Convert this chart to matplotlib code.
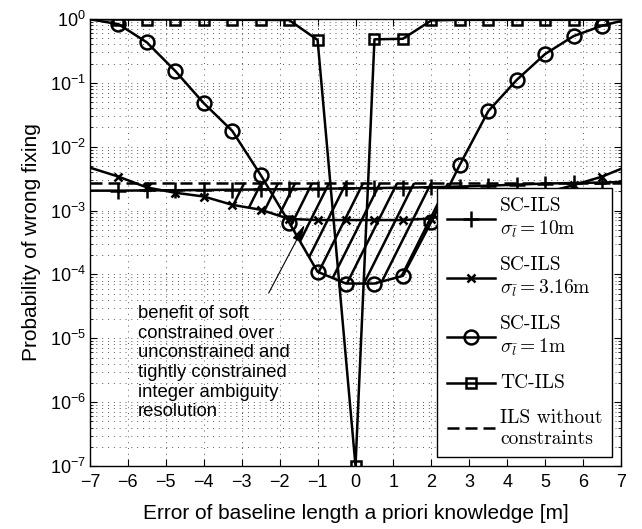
import matplotlib
matplotlib.use('Agg')
import matplotlib.pyplot as plt
import numpy as np
from matplotlib.collections import LineCollection
from matplotlib.font_manager import FontProperties
from matplotlib.ticker import LogLocator, NullFormatter

plt.rcParams.update({
    'font.family': 'Liberation Sans',
    'mathtext.fontset': 'custom',
    'mathtext.rm': 'Liberation Sans',
    'mathtext.it': 'Liberation Sans:italic',
    'mathtext.bf': 'Liberation Sans:bold',
    'axes.linewidth': 1.0,
    'xtick.direction': 'in',
    'ytick.direction': 'in',
    'xtick.top': True,
    'ytick.right': True,
})

# error of the baseline length prior [m]
x_sc = [-7, -6.25, -5.5, -4.75, -4, -3.25, -2.5, -1.75, -1, -0.25,
        0.5, 1.25, 2, 2.75, 3.5, 4.25, 5, 5.75, 6.5, 7]
x_tc = [-7, -6.25, -5.5, -4.75, -4, -3.25, -2.5, -1.75, -1, 0,
        0.5, 1.25, 2, 2.75, 3.5, 4.25, 5, 5.75, 6.5, 7]
x_ils = [-7, 7]

# probability of wrong fixing
p_sc10 = [2.05e-3, 2.05e-3, 2.07e-3, 2.08e-3, 2.1e-3, 2.12e-3, 2.14e-3, 2.17e-3, 2.2e-3, 2.22e-3,
          2.25e-3, 2.28e-3, 2.32e-3, 2.38e-3, 2.45e-3, 2.55e-3, 2.65e-3, 2.7e-3, 2.75e-3, 2.8e-3]
p_sc316 = [4.7e-3, 3.4e-3, 2.3e-3, 1.9e-3, 1.66e-3, 1.23e-3, 1.03e-3, 7.4e-4, 7.1e-4, 7.1e-4,
           7.1e-4, 7.1e-4, 7.5e-4, 1.03e-3, 1.23e-3, 1.66e-3, 1.9e-3, 2.5e-3, 3.4e-3, 4.5e-3]
p_sc1 = [0.99, 0.83, 0.43, 0.153, 0.048, 0.0177, 3.6e-3, 6.5e-4, 1.1e-4, 7.2e-5,
         7.2e-5, 9.5e-5, 6.7e-4, 5.2e-3, 0.036, 0.111, 0.283, 0.54, 0.785, 0.93]
p_tc = [1.0, 0.98, 0.98, 0.98, 0.98, 0.97, 0.97, 0.96, 0.47, 1e-7,
        0.48, 0.49, 0.95, 0.97, 0.97, 0.97, 0.97, 0.97, 0.98, 1.0]
p_ils = [2.72e-3, 2.72e-3]

# x-range of the shaded "benefit" band
band_x = [-3.3, 2.6]

legend_labels = [
    'SC-ILS\n' + r'$\sigma_{\bar{l}} = 10\mathrm{m}$',
    'SC-ILS\n' + r'$\sigma_{\bar{l}} = 3.16\mathrm{m}$',
    'SC-ILS\n' + r'$\sigma_{\bar{l}} = 1\mathrm{m}$',
    'TC-ILS',
    'ILS without\nconstraints',
]

fig = plt.figure(figsize=(6.42, 5.29), dpi=100)
ax = fig.add_axes([0.1402, 0.1191, 0.8271, 0.8450])

lw = 1.8
mew = 1.8
inner = slice(1, -1)
h1, = ax.plot(x_sc, p_sc10, color='k', lw=lw, marker='+', ms=11, mew=mew, markevery=inner, zorder=4)
h2, = ax.plot(x_sc, p_sc316, color='k', lw=lw, marker='x', ms=6, mew=mew, markevery=inner, zorder=4)
h3, = ax.plot(x_sc, p_sc1, color='k', lw=lw, marker='o', ms=10, mfc='none', mew=mew, markevery=inner, zorder=4)
h4, = ax.plot(x_tc, p_tc, color='k', lw=lw, marker='s', ms=7, mfc='none', mew=mew, markevery=inner, zorder=4)
h5, = ax.plot(x_ils, p_ils, color='k', lw=lw, ls=(0, (4.8, 2.4)), zorder=4)

# hatched band between unconstrained ILS and the best soft-constrained curve
xf = np.linspace(band_x[0], band_x[1], 400)
lo = np.minimum(np.interp(xf, x_sc, np.log10(p_sc316)), np.interp(xf, x_sc, np.log10(p_sc1)))
hi = np.interp(xf, x_ils, np.log10(p_ils))
band = ax.fill_between(xf, 10 ** lo, 10 ** hi, facecolor='none', edgecolor='none')
slope = 2.0 * (0.8271 * 642) / (0.8450 * 529)
segs = [[(c, 0.0), (c + 1.0 / slope, 1.0)] for c in np.arange(-1.0, 1.0, 0.032)]
hatch = LineCollection(segs, colors='k', linewidths=1.8, transform=ax.transAxes, zorder=3)
ax.add_collection(hatch, autolim=False)
hatch.set_clip_path(band.get_paths()[0], ax.transData)

ax.set_yscale('log')
ax.set_xlim(-7, 7)
ax.set_ylim(1e-7, 1)
ax.set_xticks(np.arange(-7, 8, 1))
ax.yaxis.set_major_locator(LogLocator(base=10, numticks=10))
ax.yaxis.set_minor_locator(LogLocator(base=10, subs=np.arange(2, 10), numticks=20))
ax.yaxis.set_minor_formatter(NullFormatter())
ax.tick_params(which='major', length=5, width=0.8, labelsize=13)
ax.tick_params(which='minor', length=2.5, width=0.6)
ax.tick_params(axis='x', pad=6)
ax.tick_params(axis='y', pad=3)

ax.grid(True, which='major', axis='both', color='0.35', ls=(0, (1, 5)), lw=0.7)
ax.grid(True, which='minor', axis='y', color='0.35', ls=(0, (1, 5)), lw=0.7)

ax.set_xlabel('Error of baseline length a priori knowledge [m]', fontsize=15, labelpad=9)
ax.set_ylabel('Probability of wrong fixing', fontsize=15, labelpad=6)

ax.annotate('', xy=(-1.34, 6.0e-4), xytext=(-2.29, 5.1e-5),
            arrowprops=dict(arrowstyle='-|>,head_length=0.7,head_width=0.18',
                            color='k', lw=0.8, mutation_scale=15, shrinkA=0, shrinkB=0))
ax.text(-5.74, 3.3e-5,
        'benefit of soft\nconstrained over\nunconstrained and\ntightly constrained\ninteger ambiguity\nresolution',
        fontsize=13.3, va='top', ha='left', linespacing=1.2)

leg_font = FontProperties(family='cmr10', size=14, math_fontfamily='cm')
leg = ax.legend([h1, h2, h3, h4, h5], legend_labels, loc='lower right', prop=leg_font,
                numpoints=1, handlelength=2.5, handletextpad=0.25, labelspacing=0.85,
                borderaxespad=0.45, borderpad=0.5, fancybox=False, framealpha=1,
                edgecolor='k')
leg.get_frame().set_linewidth(1.0)
leg.set_zorder(6)
# centre each handle on its (two-line) label
for column in leg._legend_handle_box.get_children():
    for row in column.get_children():
        row.align = 'center'

fig.savefig('out.png', dpi=100)
